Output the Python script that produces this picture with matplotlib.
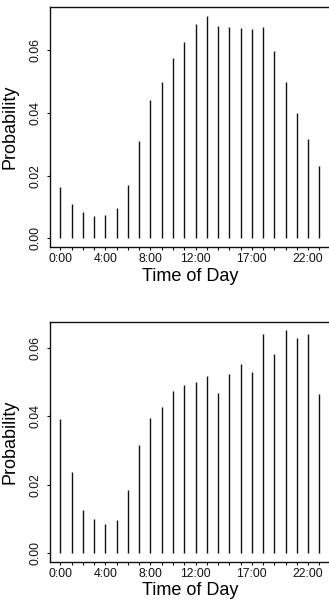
import matplotlib
matplotlib.use("Agg")
import matplotlib.pyplot as plt

plt.rcParams["font.family"] = ["Liberation Sans", "DejaVu Sans"]

hours = list(range(24))
label_hours = [0, 4, 8, 12, 17, 22]
label_text = ["0:00", "4:00", "8:00", "12:00", "17:00", "22:00"]

# hourly probabilities
prob_top = [0.0165, 0.0110, 0.0084, 0.0071, 0.0074, 0.0098, 0.0172, 0.0311,
            0.0442, 0.0499, 0.0575, 0.0626, 0.0683, 0.0709, 0.0679, 0.0673,
            0.0670, 0.0667, 0.0676, 0.0599, 0.0500, 0.0400, 0.0317, 0.0231]
prob_bottom = [0.0391, 0.0238, 0.0127, 0.0101, 0.0084, 0.0096, 0.0185, 0.0317,
               0.0394, 0.0427, 0.0473, 0.0492, 0.0499, 0.0517, 0.0468, 0.0523,
               0.0552, 0.0529, 0.0640, 0.0583, 0.0651, 0.0629, 0.0640, 0.0464]

W, H = 329, 600
fig = plt.figure(figsize=(W / 100, H / 100), dpi=100)


def panel(top_px, bottom_px, values):
    left_px, right_px = 50, 329.8
    ax = fig.add_axes([left_px / W, 1 - bottom_px / H,
                       (right_px - left_px) / W, (bottom_px - top_px) / H])
    ax.vlines(hours, 0, values, color="#111111", linewidth=1.0)
    ymax = max(values)
    ax.set_ylim(-0.04 * ymax, 1.04 * ymax)
    ax.set_xlim(-0.04 * 23, 23 * 1.04)
    ax.set_yticks([0, 0.02, 0.04, 0.06])
    ax.set_yticklabels(["0.00", "0.02", "0.04", "0.06"], rotation=90, va="center")
    ax.set_xticks(hours, minor=True)
    ax.set_xticks(label_hours)
    ax.set_xticklabels(label_text)
    ax.tick_params(which="both", direction="out", length=2.3, width=0.8,
                   labelsize=8.8, color="#111111", labelcolor="#111111")
    ax.tick_params(axis="y", pad=3.5)
    ax.tick_params(axis="x", pad=1.8)
    for s in ax.spines.values():
        s.set_linewidth(1.0)
        s.set_color("#111111")
    ax.set_xlabel("Time of Day", fontsize=13, labelpad=2)
    ax.set_ylabel("Probability", fontsize=13, labelpad=1)
    ax.yaxis.set_label_coords(-(50 - 18.3) / (right_px - left_px), 0.5)
    return ax


panel(7.3, 247.3, prob_top)
panel(321.5, 562.0, prob_bottom)

fig.savefig("out.png", dpi=100)
